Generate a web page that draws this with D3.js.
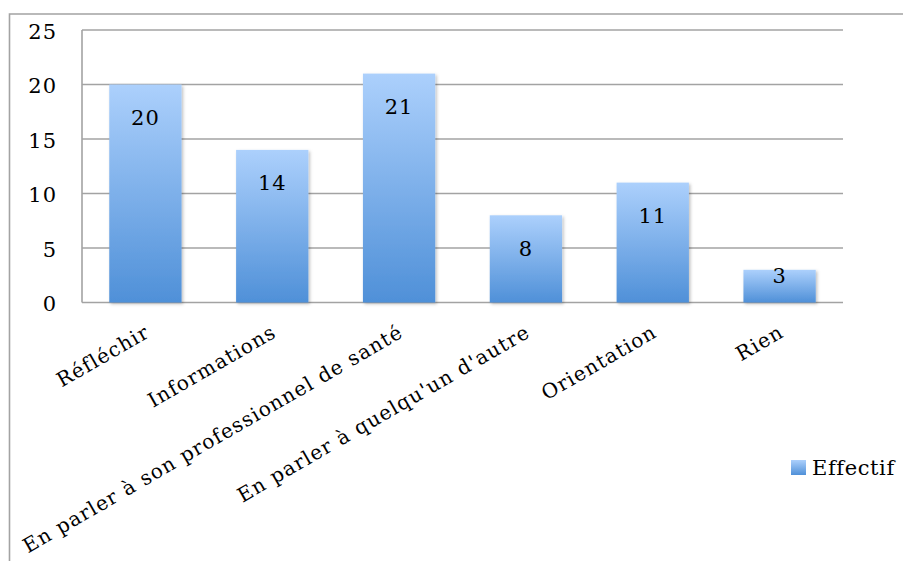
<!DOCTYPE html>
<html>
<head>
<meta charset="utf-8">
<script src="https://cdn.jsdelivr.net/npm/d3@7"></script>
<style>
  body { margin: 0; background: #fff; }
  svg text { font-family: 'DejaVu Serif', serif; fill: #000; }
</style>
</head>
<body>
<svg id="chart"></svg>
<script>
(function () {
  'use strict';

  // chart data
  var categories = [
    'Réfléchir',
    'Informations',
    'En parler à son professionnel de santé',
    'En parler à quelqu\'un d\'autre',
    'Orientation',
    'Rien'
  ];
  var effectif = [20, 14, 21, 8, 11, 3];
  var yTicks = [0, 5, 10, 15, 20, 25];
  var seriesName = 'Effectif';

  var W = 903, H = 561;
  var margin = {top: 30, right: 60, bottom: 259, left: 82};
  var width = W - margin.left - margin.right;
  var height = H - margin.top - margin.bottom;

  var svg = d3.select('#chart')
    .attr('width', W)
    .attr('height', H);

  var defs = svg.append('defs');
  var grad = defs.append('linearGradient')
    .attr('id', 'barGrad')
    .attr('x1', 0).attr('y1', 0)
    .attr('x2', 0).attr('y2', 1);
  grad.append('stop').attr('offset', '0%').attr('stop-color', '#acd0fc');
  grad.append('stop').attr('offset', '100%').attr('stop-color', '#4f90d8');

  var shadow = defs.append('filter')
    .attr('id', 'shadow')
    .attr('x', '-20%').attr('y', '-20%')
    .attr('width', '140%').attr('height', '140%');
  shadow.append('feDropShadow')
    .attr('dx', 1.5).attr('dy', 1.5)
    .attr('stdDeviation', 1.5)
    .attr('flood-color', '#000')
    .attr('flood-opacity', 0.25);

  // outer frame of the chart
  svg.append('path')
    .attr('d', 'M9.5,' + (H + 5) + 'V14H' + (W + 5))
    .attr('fill', 'none')
    .attr('stroke', '#a3a3a3')
    .attr('stroke-width', 1.6);

  var g = svg.append('g')
    .attr('transform', 'translate(' + margin.left + ',' + margin.top + ')');

  var x = d3.scaleBand()
    .domain(categories)
    .range([0, width])
    .padding(0);
  var y = d3.scaleLinear()
    .domain([0, 25])
    .range([height + 0.5, 0]);

  var barW = x.bandwidth() * 0.57;

  // gridlines
  g.selectAll('.grid')
    .data(yTicks)
    .enter()
    .append('line')
    .attr('class', 'grid')
    .attr('x1', 0)
    .attr('x2', width)
    .attr('y1', function (d) { return y(d); })
    .attr('y2', function (d) { return y(d); })
    .attr('stroke', '#a3a3a3')
    .attr('stroke-width', 1.6);

  // y axis line
  g.append('line')
    .attr('x1', 0).attr('x2', 0)
    .attr('y1', y(25)).attr('y2', y(0))
    .attr('stroke', '#a3a3a3')
    .attr('stroke-width', 1.6);

  // y tick labels
  g.selectAll('.ytick')
    .data(yTicks)
    .enter()
    .append('text')
    .attr('class', 'ytick')
    .attr('x', -25)
    .attr('y', function (d) { return y(d); })
    .attr('dy', '0.42em')
    .attr('text-anchor', 'end')
    .style('font-size', '21px')
    .style('letter-spacing', '1px')
    .text(function (d) { return d; });

  // bars
  g.selectAll('.bar')
    .data(effectif)
    .enter()
    .append('rect')
    .attr('class', 'bar')
    .attr('x', function (d, i) { return x(categories[i]) + (x.bandwidth() - barW) / 2; })
    .attr('y', function (d) { return y(d); })
    .attr('width', barW)
    .attr('height', function (d) { return y(0) - y(d); })
    .attr('fill', 'url(#barGrad)')
    .attr('filter', 'url(#shadow)');

  // value labels
  g.selectAll('.value')
    .data(effectif)
    .enter()
    .append('text')
    .attr('class', 'value')
    .attr('x', function (d, i) { return x(categories[i]) + x.bandwidth() / 2; })
    .attr('y', function (d) {
      var h = y(0) - y(d);
      return y(d) + Math.min(33, h - 27);
    })
    .attr('dy', '0.35em')
    .attr('text-anchor', 'middle')
    .style('font-size', '21px')
    .style('letter-spacing', '1px')
    .text(function (d) { return d; });

  // rotated category labels
  g.selectAll('.xlabel')
    .data(categories)
    .enter()
    .append('text')
    .attr('class', 'xlabel')
    .attr('transform', function (d) {
      return 'translate(' + (x(d) + x.bandwidth() / 2 + 2) + ',' + (height + 28) + ') rotate(-30)';
    })
    .attr('text-anchor', 'end')
    .attr('dy', '0.35em')
    .style('font-size', '20px')
    .style('letter-spacing', '1.15px')
    .text(function (d) { return d; });

  // legend
  var legend = svg.append('g')
    .attr('transform', 'translate(791,460)');
  legend.append('rect')
    .attr('width', 15)
    .attr('height', 15)
    .attr('fill', 'url(#barGrad)');
  legend.append('text')
    .attr('x', 21)
    .attr('y', 7.5)
    .attr('dy', '0.38em')
    .style('font-size', '21px')
    .style('letter-spacing', '0.6px')
    .text(seriesName);
}());
</script>
</body>
</html>
